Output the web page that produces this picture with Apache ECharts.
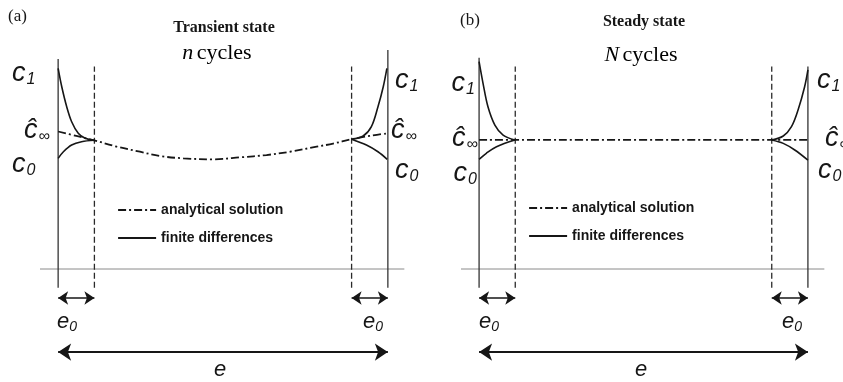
<!DOCTYPE html>
<html>
<head>
<meta charset="utf-8">
<script src="https://cdn.jsdelivr.net/npm/echarts@6/dist/echarts.min.js"></script>
<style>html,body{margin:0;padding:0;background:#fff}#c{width:843px;height:382px}</style>
</head>
<body>
<div id="c"></div>
<script>
// ---- data (x: fraction of thickness e, y: concentration level) ----
const e0 = 0.11;
const wallX = [0, 1];
const innerX = [e0, 1 - e0];

// Panel (a): transient state
const analyticalA = [[0,1.25],[0.055,1.21],[0.109,1.17],[0.178,1.112],[0.248,1.066],[0.309,1.027],[0.38,1.006],[0.471,0.997],[0.552,1.015],[0.632,1.036],[0.703,1.066],[0.784,1.112],[0.834,1.14],[0.89,1.18],[0.945,1.21],[1,1.234]];
const fdUpperLeftA = [[0,1.824],[0.011,1.657],[0.026,1.475],[0.041,1.339],[0.061,1.234],[0.082,1.188],[0.109,1.17]];
const fdLowerLeftA = [[0,1.006],[0.016,1.066],[0.041,1.127],[0.071,1.157],[0.109,1.17]];
const fdUpperRightA = [[0.89,1.18],[0.925,1.209],[0.95,1.294],[0.97,1.475],[0.986,1.657],[0.997,1.824]];
const fdLowerRightA = [[0.89,1.18],[0.935,1.127],[0.97,1.066],[0.998,0.997]];

// Panel (b): steady state
const analyticalB = [[0,1.173],[1,1.173]];
const fdUpperLeftB = [[0,1.885],[0.012,1.688],[0.027,1.475],[0.048,1.309],[0.073,1.218],[0.109,1.173]];
const fdLowerLeftB = [[0,0.997],[0.022,1.052],[0.053,1.112],[0.109,1.173]];
const fdUpperRightB = [[0.89,1.173],[0.925,1.209],[0.95,1.294],[0.97,1.445],[0.99,1.657],[1,1.81]];
const fdLowerRightB = [[0.89,1.173],[0.925,1.142],[0.96,1.082],[1,0.99]];

// line extents
const lineBottom = -0.17;
const wallTopA = [1.91, 1.99];
const wallTopB = [1.92, 1.84];
const innerTop = 1.84;
const baseRange = [-0.055, 1.05];
const e0ArrowY = -0.264;
const eArrowY = -0.755;

const labels = ['analytical solution', 'finite differences'];

// ---- build ----
const INK = '#161616';
const dashDot = [8, 3, 2, 3];

function vline(gi, x, top, dashed) {
  return {type:'line', xAxisIndex:gi, yAxisIndex:gi, silent:true, symbol:'none',
    data:[[x, lineBottom],[x, top]],
    lineStyle:{color: dashed ? '#2a2a2a' : '#333', width:1.3, type: dashed ? [6,3] : 'solid'}, z:1};
}
function curve(gi, name, d, analytical) {
  return {type:'line', name:name, xAxisIndex:gi, yAxisIndex:gi, silent:true, symbol:'none', smooth:0.35,
    data:d, itemStyle:{color:INK},
    lineStyle: analytical ? {color:INK, width:1.8, type:dashDot} : {color:INK, width:1.6, type:'solid'}, z: analytical ? 3 : 4};
}
function baseline(gi) {
  return {type:'line', xAxisIndex:gi, yAxisIndex:gi, silent:true, symbol:'none',
    data:[[baseRange[0],0],[baseRange[1],0]], lineStyle:{color:'#8a8a8a', width:1}, z:1,
    markLine:{silent:true, symbol:['arrow','arrow'], label:{show:false},
      lineStyle:{color:INK, width:1.6, type:'solid'},
      data:[
        [{coord:[wallX[0], e0ArrowY], symbolSize:10},{coord:[innerX[0], e0ArrowY], symbolSize:10}],
        [{coord:[innerX[1], e0ArrowY], symbolSize:10},{coord:[wallX[1], e0ArrowY], symbolSize:10}],
        [{coord:[wallX[0], eArrowY], symbolSize:13, lineStyle:{width:2}},{coord:[wallX[1], eArrowY], symbolSize:13}]
      ]}};
}

const series = [];
[0,1].forEach(gi => {
  const wt = gi === 0 ? wallTopA : wallTopB;
  series.push(baseline(gi));
  series.push(vline(gi, wallX[0], wt[0], false));
  series.push(vline(gi, wallX[1], wt[1], false));
  series.push(vline(gi, innerX[0], innerTop, true));
  series.push(vline(gi, innerX[1], innerTop, true));
});
series.push(curve(0, labels[0], analyticalA, true));
[fdUpperLeftA, fdLowerLeftA, fdUpperRightA, fdLowerRightA].forEach(d => series.push(curve(0, labels[1], d, false)));
series.push(curve(1, labels[0], analyticalB, true));
[fdUpperLeftB, fdLowerLeftB, fdUpperRightB, fdLowerRightB].forEach(d => series.push(curve(1, labels[1], d, false)));

const serif = '"Liberation Serif", "Times New Roman", serif';
const sans = '"Liberation Sans", Arial, sans-serif';
const cRich = {
  c:{fontFamily:sans, fontStyle:'italic', fontSize:27, color:INK},
  s:{fontFamily:sans, fontStyle:'italic', fontSize:16, color:INK, padding:[13,0,0,1]}
};
const eRich = {
  c:{fontFamily:sans, fontStyle:'italic', fontSize:22, color:INK},
  s:{fontFamily:sans, fontStyle:'italic', fontSize:14, color:INK, padding:[10,0,0,0]}
};
function sym(x, y, main, sub, align, rich) {
  return {type:'text', x:x, y:y, silent:true, style:{text:'{c|'+main+'}' + (sub ? '{s|'+sub+'}' : ''), rich:rich || cRich,
    textAlign:align || 'left', textVerticalAlign:'middle', fill:INK}};
}
function txt(x, y, t, font, align) {
  return {type:'text', x:x, y:y, silent:true, style:{text:t, font:font, fill:INK, textAlign:align||'left', textVerticalAlign:'middle'}};
}
const graphic = [
  txt(8, 17, '(a)', '17px ' + serif),
  txt(224, 28, 'Transient state', 'bold 16px ' + serif, 'center'),
  {type:'text', x:217, y:53, silent:true, style:{text:'{i|n} {r|cycles}', textAlign:'center', textVerticalAlign:'middle',
    rich:{i:{fontFamily:serif, fontStyle:'italic', fontSize:22, color:INK}, r:{fontFamily:serif, fontSize:22, color:INK}}}},
  txt(460, 21, '(b)', '17px ' + serif),
  txt(644, 22, 'Steady state', 'bold 16px ' + serif, 'center'),
  {type:'text', x:641, y:55, silent:true, style:{text:'{i|N} {r|cycles}', textAlign:'center', textVerticalAlign:'middle',
    rich:{i:{fontFamily:serif, fontStyle:'italic', fontSize:22, color:INK}, r:{fontFamily:serif, fontSize:22, color:INK}}}},
  // panel a labels
  sym(12, 73, 'c', '1'), sym(24, 130, 'ĉ', '∞'), sym(12, 164, 'c', '0'),
  sym(395, 80, 'c', '1'), sym(391, 130, 'ĉ', '∞'), sym(395, 170, 'c', '0'),
  // panel b labels
  sym(475, 83, 'c', '1', 'right'), sym(478, 138, 'ĉ', '∞', 'right'), sym(477, 173, 'c', '0', 'right'),
  sym(817, 80, 'c', '1'), sym(825, 138, 'ĉ', '∞'), sym(818, 170, 'c', '0'),
  // thickness labels
  sym(67, 322, 'e', '0', 'center', eRich), sym(373, 322, 'e', '0', 'center', eRich),
  sym(489, 322, 'e', '0', 'center', eRich), sym(792, 322, 'e', '0', 'center', eRich),
  sym(220, 370, 'e', '', 'center', eRich), sym(641, 370, 'e', '', 'center', eRich)
];

const legendCommon = {orient:'vertical', itemWidth:38, itemHeight:12, itemGap:14, data:labels, selectedMode:false,
  itemStyle:{opacity:0}, lineStyle:{width:2.2},
  textStyle:{fontFamily:sans, fontWeight:'bold', fontSize:14, color:INK}};

const option = {
  animation:false,
  backgroundColor:'#fff',
  grid:[
    {left:40, top:49, width:366, height:330},
    {left:461, top:49, width:365, height:330}
  ],
  xAxis:[
    {type:'value', gridIndex:0, min:-0.055, max:1.055, show:false},
    {type:'value', gridIndex:1, min:-0.055, max:1.055, show:false}
  ],
  yAxis:[
    {type:'value', gridIndex:0, min:-1, max:2, show:false},
    {type:'value', gridIndex:1, min:-1, max:2, show:false}
  ],
  legend:[
    Object.assign({left:112, top:198}, legendCommon),
    Object.assign({left:523, top:196}, legendCommon)
  ],
  graphic:graphic,
  series:series
};
const chart = echarts.init(document.getElementById('c'), null, {renderer:'canvas'});
chart.setOption(option);
</script>
</body>
</html>
